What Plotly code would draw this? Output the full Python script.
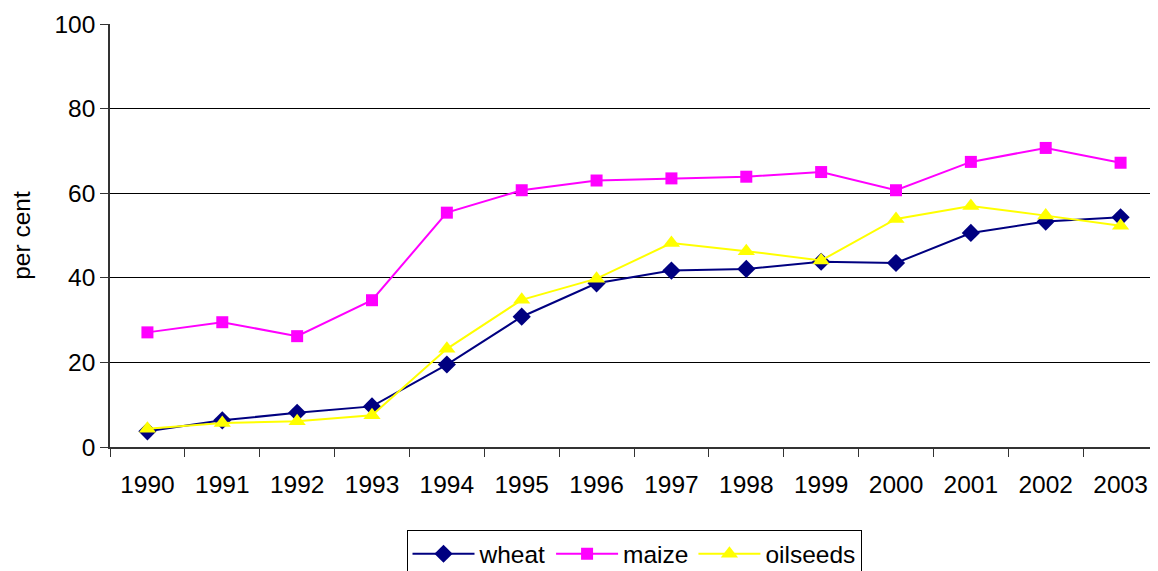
import plotly.graph_objects as go

years = ["1990", "1991", "1992", "1993", "1994", "1995", "1996", "1997",
         "1998", "1999", "2000", "2001", "2002", "2003"]
wheat = [3.7, 6.3, 8.1, 9.6, 19.5, 30.8, 38.7, 41.7, 42.1, 43.8, 43.5, 50.6, 53.3, 54.3]
maize = [27.1, 29.5, 26.2, 34.7, 55.4, 60.7, 63.0, 63.5, 63.9, 65.0, 60.7, 67.4, 70.7, 67.2]
oilseeds = [4.3, 5.7, 6.1, 7.5, 23.2, 34.8, 39.8, 48.2, 46.3, 44.1, 53.9, 57.0, 54.7, 52.3]

y_ticks = [0, 20, 40, 60, 80, 100]

FONT = "Liberation Sans, Arial, sans-serif"
FS = 24.5

fig = go.Figure()
fig.add_trace(go.Scatter(x=years, y=wheat, name="wheat", mode="lines+markers",
                         line=dict(color="#000080", width=2),
                         marker=dict(symbol="diamond", size=14, color="#000080")))
fig.add_trace(go.Scatter(x=years, y=maize, name="maize", mode="lines+markers",
                         line=dict(color="#FF00FF", width=2),
                         marker=dict(symbol="square", size=12, color="#FF00FF")))
fig.add_trace(go.Scatter(x=years, y=oilseeds, name="oilseeds", mode="lines+markers",
                         line=dict(color="#FFFF00", width=2),
                         marker=dict(symbol="triangle-up", size=15, color="#FFFF00")))

fig.update_layout(
    width=1150, height=563,
    margin=dict(l=102, r=0, t=16, b=124, autoexpand=False),
    paper_bgcolor="white", plot_bgcolor="white",
    font=dict(family=FONT, size=FS, color="black"),
    showlegend=True,
    legend=dict(orientation="h", x=0.5, xanchor="center", y=-0.197, yanchor="top",
                bordercolor="black", borderwidth=1, font=dict(size=FS),
                itemwidth=62, tracegroupgap=0),
    xaxis=dict(type="category", range=[-0.5, 13.5], showline=True, linecolor="#333333",
               linewidth=1.5, ticks="outside", tickson="boundaries", ticklen=8,
               tickcolor="#333333", showgrid=False, tickfont=dict(size=FS),
               zeroline=False, ticklabelstandoff=15),
    yaxis=dict(range=[0, 100], tickvals=y_ticks, showline=True, linecolor="#333333",
               linewidth=1.5, ticks="outside", ticklen=8, tickcolor="#333333",
               showgrid=True, gridcolor="black", gridwidth=1, zeroline=False,
               tickfont=dict(size=FS),
               title=dict(text="per cent", font=dict(size=FS), standoff=19)),
)

fig.write_html("out.html")
